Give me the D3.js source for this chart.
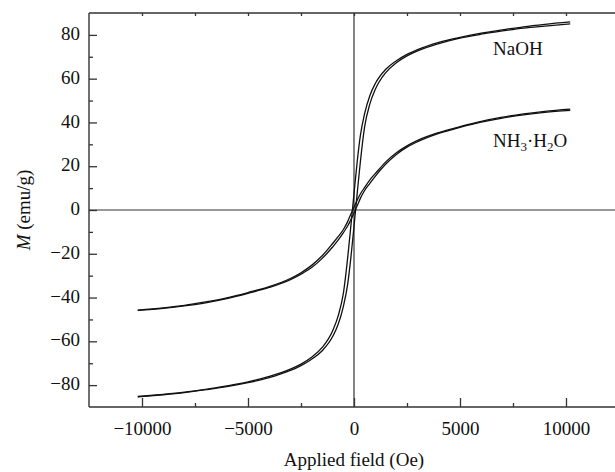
<!DOCTYPE html>
<html lang="en">

<head>
  <meta charset="UTF-8">
  <script src="https://cdn.jsdelivr.net/npm/d3@7"></script>
  <title>Hysteresis loops</title>
  <style>
    body { margin: 0; background: white; }
    text { font-family: "Liberation Serif", "Times New Roman", serif; fill: #111; }
    .loop { fill: none; stroke: #111; stroke-width: 1.3; }
    .spine { stroke: #333; stroke-width: 1.4; }
    .tick line { stroke: #333; stroke-width: 1.3; }
  </style>
</head>

<body>
  <script>
    // applied field grid (Oe)
    const fieldOe = [-10200, -9000, -8000, -7000, -6000, -5000, -4000, -3000, -2500, -2000, -1500, -1000, -750, -500, -300, -150,
      0, 150, 300, 500, 750, 1000, 1500, 2000, 2500, 3000, 4000, 5000, 6000, 7000, 8000, 9000, 10200];

    // NaOH sample, emu/g (descending branch sits slightly left of the ascending one)
    const naohDown = [-85.2, -84.2, -83.2, -81.9, -80.3, -78.5, -76.0, -72.7, -70.4, -67.3, -62.8, -55.0, -48.5, -38, -22, -7.5,
      7.5, 22, 34, 44, 52.3, 57.7, 64.3, 68.2, 71.1, 73.3, 76.6, 78.9, 80.8, 82.3, 83.7, 84.8, 85.9];
    const naohUp = [-85.4, -84.4, -83.4, -82.1, -80.7, -78.9, -76.6, -73.3, -71.1, -68.2, -64.3, -57.7, -52.3, -44, -34, -22,
      -7.5, 7.5, 22, 38, 48.5, 55, 62.8, 67.3, 70.4, 72.7, 76.0, 78.5, 80.3, 81.8, 83.1, 84.0, 85.0];

    // NH3·H2O sample, emu/g
    const nh3Down = [-45.7, -44.7, -43.6, -42.0, -40.1, -37.7, -35.0, -31.3, -28.7, -25.3, -20.9, -15.2, -12.2, -8.9, -5.3, -1.9,
      1.3, 4.5, 7.3, 10.3, 13.8, 16.6, 22.0, 26.2, 29.3, 31.8, 35.4, 38.1, 40.5, 42.4, 43.9, 45.1, 46.1];
    const nh3Up = [-45.9, -44.9, -43.8, -42.4, -40.5, -38.1, -35.4, -31.8, -29.3, -26.3, -22.1, -16.8, -13.8, -10.3, -7.3, -4.5,
      -1.3, 1.9, 5.3, 8.9, 12.2, 15.4, 21.0, 25.4, 28.7, 31.2, 35.0, 37.7, 40.1, 42.0, 43.5, 44.6, 45.5];

    const xMajor = [-10000, -5000, 0, 5000, 10000];
    const xMinor = [-7500, -2500, 2500, 7500];
    const yMajor = [-80, -60, -40, -20, 0, 20, 40, 60, 80];
    const yMinor = [-70, -50, -30, -10, 10, 30, 50, 70];

    const W = 615, H = 472;
    const plotL = 89, plotR = 619, plotT = 13, plotB = 407;

    const svg = d3.select('body').append('svg')
      .attr('width', W)
      .attr('height', H);

    const x = d3.scaleLinear().domain([-12500, 12500]).range([plotL, plotR]);
    const y = d3.scaleLinear().domain([-90, 90]).range([plotB, plotT]);

    /*********************** axes ***********************/
    svg.append('g').attr('transform', `translate(0,${plotB})`)
      .call(d3.axisBottom(x).tickValues(xMajor).tickFormat(d3.format('d')).tickSize(-9).tickPadding(14.5))
      .call(g => g.select('.domain').remove())
      .selectAll('text').style('font-size', '19px');
    svg.append('g').attr('transform', `translate(0,${plotB})`)
      .call(d3.axisBottom(x).tickValues(xMinor).tickSize(-4).tickFormat(''))
      .call(g => g.select('.domain').remove());
    svg.append('g').attr('transform', `translate(0,${plotT})`)
      .call(d3.axisTop(x).tickValues(xMajor.concat(xMinor)).tickSize(-3).tickFormat(''))
      .call(g => g.select('.domain').remove());

    svg.append('g').attr('transform', `translate(${plotL},0)`)
      .call(d3.axisLeft(y).tickValues(yMajor).tickSize(-8).tickPadding(9))
      .call(g => g.select('.domain').remove())
      .selectAll('text').style('font-size', '19px').attr('dy', '0.24em');
    svg.append('g').attr('transform', `translate(${plotL},0)`)
      .call(d3.axisLeft(y).tickValues(yMinor).tickSize(-4).tickFormat(''))
      .call(g => g.select('.domain').remove());

    // frame + zero lines
    svg.append('line').attr('class', 'spine').attr('x1', plotL).attr('x2', plotR).attr('y1', plotT).attr('y2', plotT);
    svg.append('line').attr('class', 'spine').attr('x1', plotL).attr('x2', plotR).attr('y1', plotB).attr('y2', plotB);
    svg.append('line').attr('class', 'spine').attr('x1', plotL).attr('x2', plotL).attr('y1', plotT).attr('y2', plotB);
    svg.append('line').attr('class', 'spine').style('stroke-width', 1.2)
      .attr('x1', plotL).attr('x2', plotR).attr('y1', y(0)).attr('y2', y(0));
    svg.append('line').attr('class', 'spine').style('stroke-width', 1.2)
      .attr('x1', x(0)).attr('x2', x(0)).attr('y1', plotT).attr('y2', plotB);

    /*********************** loops ***********************/
    const line = d3.line()
      .x(d => x(d[0]))
      .y(d => y(d[1]))
      .curve(d3.curveMonotoneX);

    [naohDown, naohUp, nh3Down, nh3Up].forEach(m => {
      svg.append('path').attr('class', 'loop')
        .attr('d', line(fieldOe.map((h, i) => [h, m[i]])));
    });

    /*********************** labels ***********************/
    svg.append('text')
      .attr('x', 493).attr('y', 55)
      .style('font-size', '19px')
      .text('NaOH');

    const nh = svg.append('text')
      .attr('x', 493).attr('y', 147)
      .style('font-size', '19px');
    nh.append('tspan').text('NH');
    nh.append('tspan').attr('dy', 4).style('font-size', '13px').text('3');
    nh.append('tspan').attr('dy', -4).text('·H');
    nh.append('tspan').attr('dy', 4).style('font-size', '13px').text('2');
    nh.append('tspan').attr('dy', -4).text('O');

    svg.append('text')
      .attr('x', x(0)).attr('y', 466)
      .attr('text-anchor', 'middle')
      .style('font-size', '19px')
      .text('Applied field (Oe)');

    const yt = svg.append('text')
      .attr('transform', 'translate(30,210) rotate(-90)')
      .attr('text-anchor', 'middle')
      .style('font-size', '19px');
    yt.append('tspan').style('font-style', 'italic').text('M');
    yt.append('tspan').text(' (emu/g)');

  </script>
</body>

</html>
